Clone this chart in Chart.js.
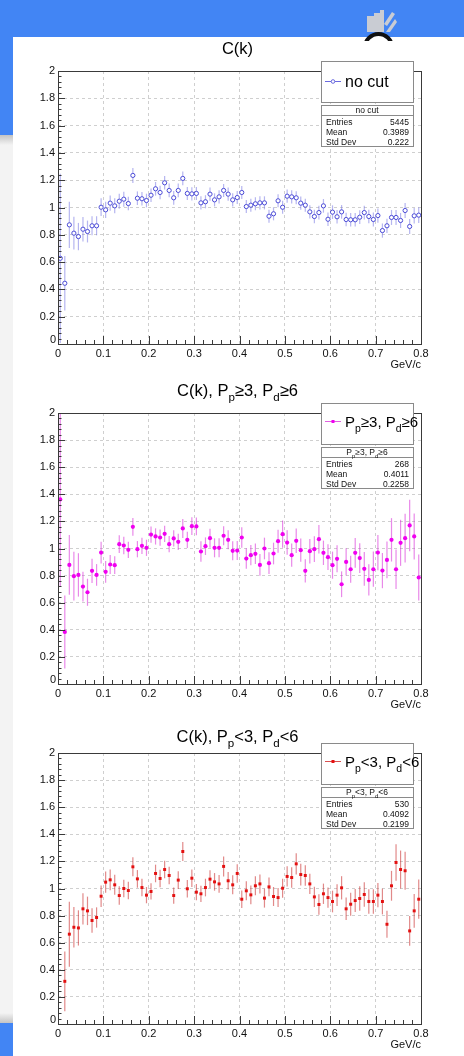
<!DOCTYPE html>
<html>
<head>
<meta charset="utf-8">
<script src="https://cdn.jsdelivr.net/npm/chart.js@4.4.0/dist/chart.umd.min.js"></script>
<style>
  html, body { margin: 0; padding: 0; background: #4285f4; overflow: hidden; }
  body { width: 464px; height: 1056px; position: relative; }
  #strip { position: absolute; left: 0; top: 135px; width: 13px; height: 888px;
           background: linear-gradient(#c4c4c4 0px, #f3f3f3 10px, #f3f3f3 878px, #c4c4c4 888px); }
  #sheet { position: absolute; left: 13px; top: 37px; width: 451px; height: 1019px; background: #fff; }
  #logo { position: absolute; left: 362px; top: 10px; }
  #cap { position: absolute; left: 363px; top: 32px; width: 31px; height: 9px; overflow: hidden; }
  #cap div { width: 23px; height: 23px; border: 4px solid #111; border-radius: 50%; background: #fff; }
  .pad { position: absolute; left: 13px; }
</style>
</head>
<body>
<div id="strip"></div>
<svg id="logo" width="36" height="28" viewBox="0 0 36 28">
  <polygon points="5,6 12,6 12,3 18,3 18,0 22,0 22,22 5,22" fill="#c9ccd3"/>
  <polygon points="22,14 30,2 33,4 25,16" fill="#c9ccd3"/>
  <polygon points="24,22 33,9 35,12 28,22" fill="#c9ccd3"/>
</svg>
<div id="sheet"></div>
<div id="cap"><div></div></div>
<canvas id="ck0" class="pad" width="451" height="341" style="top:36px"></canvas>
<canvas id="ck1" class="pad" width="451" height="339" style="top:378px"></canvas>
<canvas id="ck2" class="pad" width="451" height="339" style="top:718px"></canvas>
<script>
// histogram binning: 80 bins from 0 to 0.8 GeV/c
const nBins = 80;
const binWidth = 0.01;
const binCenters = Array.from({ length: nBins }, (_, i) => +((i + 0.5) * binWidth).toFixed(3));

const xTicks = [0, 0.1, 0.2, 0.3, 0.4, 0.5, 0.6, 0.7, 0.8];
const yTicks = [0, 0.2, 0.4, 0.6, 0.8, 1, 1.2, 1.4, 1.6, 1.8, 2];

// C(k), no cut
const noCut = [0.628, 0.445, 0.873, 0.812, 0.787, 0.841, 0.824, 0.866, 0.866, 1.002,
  0.983, 1.032, 1.012, 1.046, 1.061, 1.029, 1.235, 1.068, 1.064, 1.051,
  1.090, 1.137, 1.110, 1.181, 1.125, 1.071, 1.125, 1.213, 1.103, 1.100,
  1.103, 1.034, 1.042, 1.098, 1.056, 1.078, 1.125, 1.098, 1.056, 1.073,
  1.110, 1.007, 1.017, 1.027, 1.034, 1.034, 0.936, 0.954, 1.049, 1.002,
  1.083, 1.078, 1.071, 1.032, 1.017, 0.968, 0.934, 0.963, 1.012, 0.914,
  0.966, 0.932, 0.968, 0.912, 0.910, 0.910, 0.929, 0.963, 0.934, 0.912,
  0.941, 0.831, 0.866, 0.927, 0.927, 0.905, 0.978, 0.861, 0.939, 0.944];
const noCutErr = [0.62, 0.20, 0.17, 0.12, 0.10, 0.09, 0.08, 0.07, 0.07, 0.065,
  0.06, 0.055, 0.055, 0.055, 0.055, 0.05, 0.055, 0.05, 0.05, 0.05,
  0.05, 0.05, 0.05, 0.05, 0.05, 0.05, 0.05, 0.05, 0.048, 0.048,
  0.048, 0.048, 0.048, 0.048, 0.048, 0.048, 0.048, 0.048, 0.048, 0.048,
  0.048, 0.048, 0.048, 0.048, 0.048, 0.048, 0.048, 0.048, 0.048, 0.048,
  0.048, 0.048, 0.048, 0.048, 0.048, 0.048, 0.05, 0.05, 0.05, 0.05,
  0.05, 0.05, 0.05, 0.05, 0.05, 0.05, 0.05, 0.05, 0.05, 0.052,
  0.052, 0.052, 0.052, 0.055, 0.055, 0.055, 0.055, 0.055, 0.057, 0.057];

// C(k), Pp >= 3, Pd >= 6
const highP = [1.362, 0.384, 0.879, 0.796, 0.805, 0.719, 0.677, 0.835, 0.805, 0.970,
  0.828, 0.882, 0.877, 1.032, 1.022, 0.990, 1.160, 0.995, 1.020, 1.005,
  1.103, 1.089, 1.081, 1.108, 1.032, 1.074, 1.049, 1.148, 1.064, 1.165,
  1.163, 0.978, 1.017, 1.076, 1.005, 1.005, 1.094, 1.064, 0.983, 0.985,
  1.081, 0.926, 0.951, 0.961, 0.879, 1.000, 0.892, 0.963, 1.054, 1.106,
  1.044, 0.951, 1.057, 0.988, 0.835, 0.980, 0.995, 1.069, 0.968, 0.936,
  0.877, 0.924, 0.736, 0.901, 0.847, 0.968, 0.929, 0.850, 0.768, 0.847,
  0.970, 0.837, 0.916, 1.064, 0.847, 1.042, 1.076, 1.170, 1.089, 0.786];
const highPErr = [0.64, 0.27, 0.22, 0.18, 0.16, 0.11, 0.10, 0.09, 0.08, 0.08,
  0.08, 0.07, 0.065, 0.065, 0.065, 0.06, 0.065, 0.06, 0.06, 0.06,
  0.06, 0.06, 0.06, 0.06, 0.06, 0.06, 0.06, 0.07, 0.06, 0.065,
  0.065, 0.075, 0.065, 0.07, 0.07, 0.07, 0.07, 0.07, 0.07, 0.07,
  0.075, 0.075, 0.075, 0.075, 0.08, 0.08, 0.08, 0.08, 0.085, 0.10,
  0.09, 0.085, 0.09, 0.085, 0.085, 0.09, 0.095, 0.105, 0.09, 0.095,
  0.10, 0.10, 0.095, 0.10, 0.10, 0.11, 0.11, 0.125, 0.115, 0.13,
  0.13, 0.13, 0.135, 0.16, 0.145, 0.17, 0.18, 0.19, 0.17, 0.17];

// C(k), Pp < 3, Pd < 6 (first bin empty)
const lowP = [null, 0.315, 0.663, 0.714, 0.709, 0.850, 0.835, 0.764, 0.786, 0.943,
  1.047, 1.064, 1.027, 0.948, 1.000, 0.985, 1.160, 1.071, 1.007, 0.951,
  0.978, 1.111, 1.074, 1.140, 1.096, 0.948, 1.062, 1.273, 0.998, 1.076,
  0.973, 0.961, 1.007, 1.069, 1.049, 1.034, 1.163, 1.057, 1.027, 1.111,
  0.921, 0.983, 0.953, 1.020, 1.034, 0.929, 1.012, 0.941, 0.933, 1.002,
  1.089, 1.081, 1.182, 1.103, 1.096, 1.034, 0.938, 0.882, 0.961, 0.933,
  0.904, 0.951, 1.005, 0.850, 0.884, 0.911, 0.926, 0.956, 0.904, 0.904,
  0.951, 0.904, 0.736, 1.020, 1.192, 1.140, 1.131, 0.687, 0.835, 0.921];
const lowPErr = [0, 0.22, 0.24, 0.15, 0.13, 0.115, 0.105, 0.09, 0.075, 0.08,
  0.078, 0.076, 0.074, 0.068, 0.065, 0.065, 0.07, 0.065, 0.065, 0.06,
  0.06, 0.065, 0.065, 0.065, 0.065, 0.06, 0.065, 0.07, 0.065, 0.065,
  0.06, 0.06, 0.065, 0.065, 0.065, 0.065, 0.074, 0.065, 0.07, 0.068,
  0.065, 0.07, 0.07, 0.07, 0.07, 0.07, 0.07, 0.07, 0.07, 0.07,
  0.075, 0.075, 0.078, 0.08, 0.075, 0.075, 0.075, 0.075, 0.075, 0.075,
  0.08, 0.08, 0.086, 0.083, 0.085, 0.085, 0.09, 0.09, 0.09, 0.09,
  0.09, 0.095, 0.1, 0.11, 0.135, 0.14, 0.14, 0.11, 0.125, 0.145];

// stats box numbers
const statEntries = ['5445', '268', '530'];
const statMean = ['0.3989', '0.4011', '0.4092'];
const statStd = ['0.222', '0.2258', '0.2199'];

// rich labels: [text, isSubscript]
const labelNoCut = [['no cut', false]];
const labelHigh = [['P', false], ['p', true], ['\u22653, P', false], ['d', true], ['\u22656', false]];
const labelLow = [['P', false], ['p', true], ['<3, P', false], ['d', true], ['<6', false]];

const FAMILY = '"Liberation Sans", Arial, Helvetica, sans-serif';

function richWidth(ctx, parts, size) {
  let w = 0;
  parts.forEach(([t, sub]) => {
    ctx.font = (sub ? size * 0.7 : size) + 'px ' + FAMILY;
    w += ctx.measureText(t).width;
  });
  return w;
}

function drawRich(ctx, parts, x, y, size, align) {
  const w = richWidth(ctx, parts, size);
  let cx = align === 'center' ? x - w / 2 : (align === 'right' ? x - w : x);
  ctx.textBaseline = 'alphabetic';
  ctx.textAlign = 'left';
  parts.forEach(([t, sub]) => {
    const s = sub ? size * 0.7 : size;
    ctx.font = s + 'px ' + FAMILY;
    ctx.fillText(t, cx, sub ? y + size * 0.32 : y);
    cx += ctx.measureText(t).width;
  });
}

// vertical error bars, drawn under the markers
const errorBars = {
  id: 'errorBars',
  beforeDatasetsDraw(chart) {
    const { ctx, chartArea, scales: { x, y } } = chart;
    chart.data.datasets.forEach((ds) => {
      ctx.save();
      ctx.beginPath();
      ctx.rect(chartArea.left, chartArea.top, chartArea.width, chartArea.height);
      ctx.clip();
      ctx.strokeStyle = ds.errorColor;
      ctx.lineWidth = 1.2;
      ds.data.forEach((p, j) => {
        if (p.y == null) return;
        const e = ds.errors[j];
        const px = x.getPixelForValue(p.x);
        ctx.beginPath();
        ctx.moveTo(px, y.getPixelForValue(p.y + e));
        ctx.lineTo(px, y.getPixelForValue(p.y - e));
        ctx.stroke();
      });
      ctx.restore();
    });
  }
};

function decorPlugin(panel) {
  return {
    id: 'rootDecor',
    afterDraw(chart) {
      const { ctx, chartArea: a, scales: { x, y } } = chart;
      ctx.save();
      // frame
      ctx.strokeStyle = '#3a3a3a';
      ctx.lineWidth = 1;
      ctx.strokeRect(Math.round(a.left) + 0.5, Math.round(a.top) + 0.5, Math.round(a.width), Math.round(a.height));
      // inward tick marks, 5 subdivisions per major step
      ctx.beginPath();
      for (let i = 0; i < xTicks.length - 1; i++) {
        for (let k = 0; k < 5; k++) {
          const v = xTicks[i] + (xTicks[i + 1] - xTicks[i]) * k / 5;
          const px = Math.round(x.getPixelForValue(v)) + 0.5;
          ctx.moveTo(px, a.bottom);
          ctx.lineTo(px, a.bottom - (k === 0 ? 8 : 4));
        }
      }
      for (let i = 0; i < yTicks.length - 1; i++) {
        for (let k = 0; k < 5; k++) {
          const v = yTicks[i] + (yTicks[i + 1] - yTicks[i]) * k / 5;
          const py = Math.round(y.getPixelForValue(v)) + 0.5;
          ctx.moveTo(a.left, py);
          ctx.lineTo(a.left + (k === 0 ? 7 : 3.5), py);
        }
      }
      ctx.stroke();

      // y "0" label, lifted clear of the x "0"
      ctx.fillStyle = '#111';
      ctx.font = '11px ' + FAMILY;
      ctx.textAlign = 'right';
      ctx.textBaseline = 'middle';
      ctx.fillText('0', a.left - 2, y.getPixelForValue(0) - 4);

      // title
      ctx.fillStyle = '#000';
      drawRich(ctx, panel.title, (a.left + a.right) / 2 - 2, a.top - panel.titleGap, 16.5, 'center');

      // legend box
      const bx = a.left + 263, bw = 92;
      ctx.fillStyle = '#fff';
      ctx.fillRect(bx, a.top - 10, bw, 41);
      ctx.strokeStyle = '#8a8a8a';
      ctx.strokeRect(bx + 0.5, a.top - 10 + 0.5, bw, 41);
      const ly = a.top + panel.legendY;
      ctx.strokeStyle = panel.lineColor;
      ctx.lineWidth = 1;
      ctx.beginPath();
      ctx.moveTo(bx + 4, ly);
      ctx.lineTo(bx + 20, ly);
      ctx.stroke();
      if (panel.open) {
        ctx.fillStyle = '#fff';
        ctx.beginPath();
        ctx.arc(bx + 12, ly, 1.8, 0, Math.PI * 2);
        ctx.fill();
        ctx.stroke();
      } else {
        ctx.fillStyle = panel.markColor;
        ctx.fillRect(bx + 10.5, ly - 1.5, 3, 3);
      }
      ctx.fillStyle = '#000';
      drawRich(ctx, panel.legend, bx + 24, ly + panel.legendSize * 0.36, panel.legendSize, 'left');

      // stats box
      const sy = a.top + 34;
      ctx.fillStyle = '#fff';
      ctx.fillRect(bx, sy, bw, 41);
      ctx.strokeStyle = '#8a8a8a';
      ctx.strokeRect(bx + 0.5, sy + 0.5, bw, 41);
      ctx.beginPath();
      ctx.moveTo(bx, sy + 10.5);
      ctx.lineTo(bx + bw, sy + 10.5);
      ctx.stroke();
      ctx.fillStyle = '#111';
      drawRich(ctx, panel.header, bx + bw / 2, sy + 8, 8.5, 'center');
      const rows = [['Entries', statEntries[panel.idx]], ['Mean', statMean[panel.idx]], ['Std Dev', statStd[panel.idx]]];
      ctx.font = '8.5px ' + FAMILY;
      ctx.textBaseline = 'alphabetic';
      rows.forEach(([k, v], r) => {
        ctx.textAlign = 'left';
        ctx.fillText(k, bx + 5, sy + 19.5 + r * 10);
        ctx.textAlign = 'right';
        ctx.fillText(v, bx + bw - 4, sy + 19.5 + r * 10);
      });
      ctx.restore();
    }
  };
}

function makePanel(panel) {
  const points = binCenters.map((c, i) => ({ x: c, y: panel.values[i] }));
  new Chart(document.getElementById('ck' + panel.idx), {
    type: 'scatter',
    data: {
      datasets: [{
        data: points,
        errors: panel.errors,
        errorColor: panel.errColor,
        pointStyle: panel.pointStyle,
        pointRadius: panel.radius,
        backgroundColor: panel.fill,
        borderColor: panel.markColor,
        borderWidth: panel.open ? 1 : 0
      }]
    },
    options: {
      responsive: false,
      animation: false,
      events: [],
      layout: { padding: { top: 35, right: 43, left: 0, bottom: 0 } },
      plugins: { legend: { display: false }, tooltip: { enabled: false } },
      scales: {
        x: {
          type: 'linear', min: 0, max: 0.8,
          afterFit: (s) => { s.height = 33; },
          afterBuildTicks: (s) => { s.ticks = xTicks.map((v) => ({ value: v })); },
          grid: { color: '#cfcfcf', lineWidth: 1, drawTicks: false },
          border: { display: false, dash: [3, 3] },
          ticks: {
            padding: 3, color: '#111', font: { size: 11, family: FAMILY },
            maxRotation: 0, autoSkip: false,
            callback: (v) => String(+v.toFixed(1))
          },
          title: { display: true, text: 'GeV/c', align: 'end', color: '#111',
                   font: { size: 11, family: FAMILY }, padding: { top: 0, bottom: 5 } }
        },
        y: {
          type: 'linear', min: 0, max: 2,
          afterFit: (s) => { s.width = 45; },
          afterBuildTicks: (s) => { s.ticks = yTicks.map((v) => ({ value: v })); },
          grid: { color: '#cfcfcf', lineWidth: 1, drawTicks: false },
          border: { display: false, dash: [3, 3] },
          ticks: {
            padding: 3, color: '#111', font: { size: 11, family: FAMILY },
            autoSkip: false,
            callback: (v) => (v === 0 ? '' : String(+v.toFixed(1)))
          }
        }
      }
    },
    plugins: [errorBars, decorPlugin(panel)]
  });
}

makePanel({
  idx: 0, values: noCut, errors: noCutErr,
  title: [['C(k)', false]], titleGap: 17.5,
  legend: labelNoCut, legendSize: 16, legendY: 10.5, header: labelNoCut,
  pointStyle: 'circle', radius: 2.1, open: true, fill: '#ffffff',
  markColor: '#4a4ad6', lineColor: '#6a6ae0', errColor: 'rgba(110, 110, 225, 0.5)'
});
makePanel({
  idx: 1, values: highP, errors: highPErr,
  title: [['C(k), ', false]].concat(labelHigh), titleGap: 17,
  legend: labelHigh, legendSize: 15, legendY: 8.5, header: labelHigh,
  pointStyle: 'circle', radius: 2.1, open: false, fill: '#f000f0',
  markColor: '#f000f0', lineColor: '#e060e0', errColor: 'rgba(215, 40, 215, 0.55)'
});
makePanel({
  idx: 2, values: lowP, errors: lowPErr,
  title: [['C(k), ', false]].concat(labelLow), titleGap: 11.5,
  legend: labelLow, legendSize: 15, legendY: 8.5, header: labelLow,
  pointStyle: 'rect', radius: 2.1, open: false, fill: '#e41010',
  markColor: '#e41010', lineColor: '#d85050', errColor: 'rgba(200, 40, 40, 0.55)'
});
</script>
</body>
</html>
